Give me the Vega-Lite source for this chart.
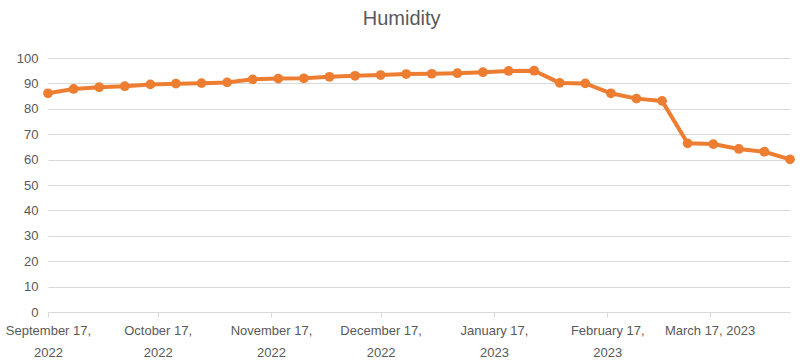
{
  "$schema": "https://vega.github.io/schema/vega-lite/v6.json",
  "width": 742,
  "height": 254,
  "autosize": {"type": "none"},
  "padding": {"left": 48, "top": 58, "right": 10, "bottom": 51},
  "background": "white",
  "title": {"text": "Humidity", "fontSize": 20, "font": "Liberation Sans", "fontWeight": "normal", "color": "#595959", "anchor": "middle", "frame": "bounds", "offset": 23},
  "config": {"view": {"stroke": null}},
  "data": {"values": [
    {"date": "2022-09-17", "humidity": 86.1},
    {"date": "2022-09-24", "humidity": 87.8},
    {"date": "2022-10-01", "humidity": 88.5},
    {"date": "2022-10-08", "humidity": 88.9},
    {"date": "2022-10-15", "humidity": 89.6},
    {"date": "2022-10-22", "humidity": 89.9},
    {"date": "2022-10-29", "humidity": 90.1},
    {"date": "2022-11-05", "humidity": 90.4},
    {"date": "2022-11-12", "humidity": 91.6},
    {"date": "2022-11-19", "humidity": 91.9},
    {"date": "2022-11-26", "humidity": 92.0},
    {"date": "2022-12-03", "humidity": 92.6},
    {"date": "2022-12-10", "humidity": 93.0},
    {"date": "2022-12-17", "humidity": 93.3},
    {"date": "2022-12-24", "humidity": 93.7},
    {"date": "2022-12-31", "humidity": 93.8},
    {"date": "2023-01-07", "humidity": 94.0},
    {"date": "2023-01-14", "humidity": 94.4},
    {"date": "2023-01-21", "humidity": 94.9},
    {"date": "2023-01-28", "humidity": 95.0},
    {"date": "2023-02-04", "humidity": 90.2},
    {"date": "2023-02-11", "humidity": 90.0},
    {"date": "2023-02-18", "humidity": 86.1},
    {"date": "2023-02-25", "humidity": 84.0},
    {"date": "2023-03-04", "humidity": 83.1},
    {"date": "2023-03-11", "humidity": 66.4},
    {"date": "2023-03-18", "humidity": 66.1},
    {"date": "2023-03-25", "humidity": 64.2},
    {"date": "2023-04-01", "humidity": 63.1},
    {"date": "2023-04-08", "humidity": 60.1}
  ]},
  "mark": {"type": "line", "color": "#ED7D31", "strokeWidth": 4, "point": {"filled": true, "size": 95, "color": "#ED7D31", "opacity": 1}},
  "encoding": {
    "x": {
      "field": "date", "type": "temporal",
      "scale": {"type": "utc", "domain": [{"year": 2022, "month": 9, "date": 17, "utc": true}, {"year": 2023, "month": 4, "date": 8, "utc": true}]},
      "axis": {
        "title": null, "grid": false,
        "values": [
          {"year": 2022, "month": 9, "date": 17, "utc": true},
          {"year": 2022, "month": 10, "date": 17, "utc": true},
          {"year": 2022, "month": 11, "date": 17, "utc": true},
          {"year": 2022, "month": 12, "date": 17, "utc": true},
          {"year": 2023, "month": 1, "date": 17, "utc": true},
          {"year": 2023, "month": 2, "date": 17, "utc": true},
          {"year": 2023, "month": 3, "date": 17, "utc": true}
        ],
        "labelExpr": "utcFormat(datum.value, '%m') == '03' ? utcFormat(datum.value, '%B %-d, %Y') : [utcFormat(datum.value, '%B %-d,'), utcFormat(datum.value, '%Y')]",
        "labelFont": "Liberation Sans", "labelFontSize": 13, "labelColor": "#595959",
        "labelLineHeight": 22, "labelOverlap": false, "labelBound": false, "labelFlush": false,
        "labelPadding": 7,
        "domainColor": "#d9d9d9", "domainWidth": 1,
        "tickColor": "#d9d9d9", "tickSize": 5
      }
    },
    "y": {
      "field": "humidity", "type": "quantitative",
      "scale": {"domain": [0, 100], "nice": false},
      "axis": {
        "title": null, "values": [0, 10, 20, 30, 40, 50, 60, 70, 80, 90, 100],
        "domain": false, "ticks": false, "gridColor": "#d9d9d9", "gridWidth": 1,
        "labelFont": "Liberation Sans", "labelFontSize": 13, "labelColor": "#595959", "labelPadding": 10
      }
    }
  }
}
